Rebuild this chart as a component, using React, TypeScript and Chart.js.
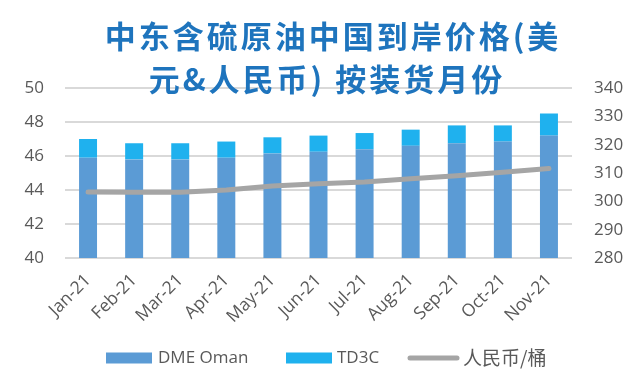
import React, { useEffect, useRef } from "react";
import { Chart, registerables } from "chart.js";

Chart.register(...registerables);

const categories = ["Jan-21", "Feb-21", "Mar-21", "Apr-21", "May-21", "Jun-21", "Jul-21", "Aug-21", "Sep-21", "Oct-21", "Nov-21"];
const dmeOman = [45.9, 45.8, 45.8, 45.9, 46.15, 46.25, 46.4, 46.6, 46.75, 46.85, 47.2];
const td3c = [1.1, 0.95, 0.95, 0.95, 0.95, 0.95, 0.95, 0.95, 1.05, 0.95, 1.3];
const rmbPerBarrel = [303.3, 303.2, 303.2, 304.0, 305.4, 306.2, 306.8, 308.0, 309.0, 310.3, 311.6];
const leftTicks = [40, 42, 44, 46, 48, 50];
const rightTicks = [280, 290, 300, 310, 320, 330, 340];
const titleLines = ["中东含硫原油中国到岸价格(美", "元&人民币) 按装货月份"];
const legendLabels = ["DME Oman", "TD3C", "人民币/桶"];

const COLORS = { dme: "#5B9BD5", td3c: "#1FB1EE", line: "#A5A5A5", text: "#595959", grid: "#D9D9D9", title: "#1E74BD" };
const TICK_FONT = "'Open Sans', 'DejaVu Sans', sans-serif";

const overlayPlugin = {
  id: "overlay",
  afterDraw(chart: any) {
    const ctx = chart.ctx as CanvasRenderingContext2D;
    ctx.save();
    // Title
    ctx.fillStyle = COLORS.title;
    ctx.font = "bold 31px 'Noto Sans CJK SC', sans-serif";
    ctx.textAlign = "center";
    ctx.textBaseline = "middle";
    (ctx as any).letterSpacing = "3px";
    ctx.fillText(titleLines[0], 333, 36);
    ctx.fillText(titleLines[1], 327, 79);
    (ctx as any).letterSpacing = "0px";
    // Legend
    const y = 358;
    ctx.textAlign = "left";
    ctx.textBaseline = "middle";
    ctx.fillStyle = COLORS.dme;
    ctx.fillRect(106, y - 5.5, 46, 11);
    ctx.fillStyle = COLORS.td3c;
    ctx.fillRect(286, y - 5.5, 46, 11);
    ctx.strokeStyle = COLORS.line;
    ctx.lineWidth = 5;
    ctx.lineCap = "round";
    ctx.beginPath();
    ctx.moveTo(410, y);
    ctx.lineTo(457, y);
    ctx.stroke();
    ctx.fillStyle = COLORS.text;
    ctx.font = `17px ${TICK_FONT}`;
    ctx.fillText(legendLabels[0], 158, y);
    ctx.fillText(legendLabels[1], 337, y);
    ctx.font = "19px 'Noto Sans CJK SC', sans-serif";
    ctx.fillText(legendLabels[2], 463, y);
    ctx.restore();
  },
};

export default function App() {
  const ref = useRef<HTMLCanvasElement>(null);
  useEffect(() => {
    document.body.style.margin = "0";
    const chart = new Chart(ref.current as HTMLCanvasElement, {
      type: "bar",
      data: {
        labels: categories,
        datasets: [
          { type: "line", label: legendLabels[2], data: rmbPerBarrel, yAxisID: "y1", borderColor: COLORS.line, backgroundColor: COLORS.line, borderWidth: 5, pointRadius: 0, borderCapStyle: "round", borderJoinStyle: "round", tension: 0, order: 0 } as any,
          { type: "bar", label: legendLabels[0], data: dmeOman, yAxisID: "y", backgroundColor: COLORS.dme, barPercentage: 0.39, categoryPercentage: 1, stack: "s", order: 1 },
          { type: "bar", label: legendLabels[1], data: td3c, yAxisID: "y", backgroundColor: COLORS.td3c, barPercentage: 0.39, categoryPercentage: 1, stack: "s", order: 1 },
        ],
      },
      options: {
        responsive: false,
        animation: false,
        layout: { padding: { top: 88, left: 0, right: 0, bottom: 0 } },
        plugins: { legend: { display: false }, title: { display: false }, tooltip: { enabled: false } },
        scales: {
          x: {
            stacked: true,
            grid: { display: false },
            border: { display: false },
            ticks: { color: COLORS.text, font: { family: TICK_FONT, size: 17.5 }, maxRotation: 45, minRotation: 45, padding: 4 },
            afterFit: (s: any) => { s.height = 132; },
          },
          y: {
            position: "left",
            stacked: true,
            min: leftTicks[0],
            max: leftTicks[leftTicks.length - 1],
            afterBuildTicks: (s: any) => { s.ticks = leftTicks.map((v) => ({ value: v })); },
            grid: { color: COLORS.grid, lineWidth: 2, drawTicks: false },
            border: { display: false },
            ticks: { color: COLORS.text, font: { family: TICK_FONT, size: 17 }, padding: 21 },
            afterFit: (s: any) => { s.width = 65; },
          },
          y1: {
            position: "right",
            min: rightTicks[0],
            max: rightTicks[rightTicks.length - 1],
            afterBuildTicks: (s: any) => { s.ticks = rightTicks.map((v) => ({ value: v })); },
            grid: { display: false, drawTicks: false },
            border: { display: false },
            ticks: { color: COLORS.text, font: { family: TICK_FONT, size: 17 }, padding: 22 },
            afterFit: (s: any) => { s.width = 70; },
          },
        },
      },
      plugins: [overlayPlugin],
    });
    return () => chart.destroy();
  }, []);
  return (
    <div style={{ width: 642, height: 390, background: "#fff" }}>
      <canvas ref={ref} width={642} height={390} />
    </div>
  );
}
